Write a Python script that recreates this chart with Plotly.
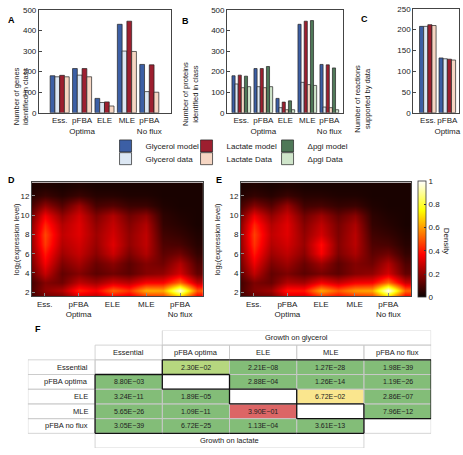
import plotly.graph_objects as go
import numpy as np

W, H = 463, 455
FONT = "Liberation Sans, Arial, Helvetica, sans-serif"

# ---------------- data ----------------
classes_AB = ["Ess.", "pFBA<br>Optima", "ELE", "MLE", "pFBA<br>No flux"]
classes_C = ["Ess.", "pFBA<br>Optima"]

genes_glycerol_model = [180, 215, 70, 430, 235]
genes_glycerol_data = [175, 183, 50, 300, 103]
genes_lactate_model = [182, 215, 53, 445, 233]
genes_lactate_data = [175, 175, 33, 298, 100]

prot_glycerol_model = [180, 215, 70, 430, 235]
prot_glycerol_data = [140, 127, 25, 148, 28]
prot_lactate_model = [183, 215, 52, 445, 233]
prot_lactate_data = [122, 122, 15, 137, 25]
prot_pgi_model = [178, 225, 58, 448, 218]
prot_pgi_data = [127, 127, 15, 133, 15]

rxn_glycerol_model = [208, 132]
rxn_glycerol_data = [208, 130]
rxn_lactate_model = [212, 129]
rxn_lactate_data = [210, 127]

# density heatmaps (D: glycerol, E: lactate); sampled at x positions / expression levels
dens_x = [0.5, 1, 1.5, 2, 2.5, 3, 3.5, 4, 4.5, 5, 5.5]
dens_y = [1.5, 2.2, 3, 4, 5, 6, 7, 8, 9, 10, 11, 12, 13]
dens_class_ticks = [1, 2, 3, 4, 5]
dens_class_labels = ["Ess.", "pFBA<br>Optima", "ELE", "MLE", "pFBA<br>No flux"]

D_cols = [
    [0.05, 0.07, 0.06, 0.09, 0.11, 0.13, 0.14, 0.14, 0.13, 0.10, 0.06, 0.03, 0.02],
    [0.14, 0.20, 0.18, 0.28, 0.35, 0.40, 0.45, 0.47, 0.42, 0.35, 0.20, 0.07, 0.03],
    [0.15, 0.25, 0.15, 0.13, 0.17, 0.22, 0.25, 0.27, 0.25, 0.20, 0.11, 0.04, 0.02],
    [0.28, 0.42, 0.27, 0.18, 0.23, 0.28, 0.30, 0.32, 0.32, 0.30, 0.22, 0.07, 0.03],
    [0.25, 0.36, 0.22, 0.12, 0.14, 0.19, 0.21, 0.22, 0.20, 0.17, 0.09, 0.04, 0.02],
    [0.33, 0.52, 0.30, 0.15, 0.19, 0.29, 0.32, 0.30, 0.28, 0.25, 0.11, 0.04, 0.02],
    [0.30, 0.44, 0.26, 0.12, 0.12, 0.17, 0.20, 0.20, 0.18, 0.15, 0.07, 0.03, 0.02],
    [0.40, 0.63, 0.36, 0.18, 0.18, 0.25, 0.27, 0.27, 0.25, 0.20, 0.07, 0.03, 0.02],
    [0.42, 0.62, 0.36, 0.20, 0.15, 0.12, 0.10, 0.08, 0.06, 0.05, 0.03, 0.02, 0.02],
    [0.60, 0.97, 0.52, 0.30, 0.25, 0.15, 0.09, 0.06, 0.04, 0.03, 0.02, 0.02, 0.02],
    [0.32, 0.50, 0.27, 0.13, 0.10, 0.06, 0.04, 0.03, 0.02, 0.02, 0.02, 0.02, 0.02],
]
E_cols = [
    [0.05, 0.07, 0.06, 0.09, 0.11, 0.13, 0.14, 0.14, 0.13, 0.10, 0.06, 0.03, 0.02],
    [0.13, 0.18, 0.17, 0.27, 0.34, 0.40, 0.44, 0.46, 0.42, 0.34, 0.18, 0.06, 0.03],
    [0.14, 0.22, 0.14, 0.13, 0.17, 0.22, 0.25, 0.27, 0.25, 0.20, 0.11, 0.04, 0.02],
    [0.28, 0.40, 0.25, 0.17, 0.22, 0.27, 0.30, 0.32, 0.32, 0.29, 0.21, 0.07, 0.03],
    [0.28, 0.40, 0.23, 0.12, 0.14, 0.19, 0.21, 0.20, 0.18, 0.15, 0.08, 0.04, 0.02],
    [0.40, 0.62, 0.35, 0.16, 0.22, 0.36, 0.38, 0.30, 0.27, 0.22, 0.09, 0.04, 0.02],
    [0.35, 0.50, 0.28, 0.12, 0.12, 0.17, 0.18, 0.17, 0.16, 0.13, 0.06, 0.03, 0.02],
    [0.40, 0.60, 0.35, 0.18, 0.18, 0.24, 0.26, 0.26, 0.24, 0.19, 0.07, 0.03, 0.02],
    [0.42, 0.62, 0.36, 0.20, 0.15, 0.12, 0.10, 0.08, 0.06, 0.05, 0.03, 0.02, 0.02],
    [0.62, 1.00, 0.53, 0.30, 0.25, 0.15, 0.09, 0.06, 0.04, 0.03, 0.02, 0.02, 0.02],
    [0.33, 0.52, 0.28, 0.13, 0.10, 0.06, 0.04, 0.03, 0.02, 0.02, 0.02, 0.02, 0.02],
]
density_ticks = [0, 0.2, 0.4, 0.6, 0.8, 1]
density_labels = ["0", "0.2", "0.4", "0.6", "0.8", "1"]

# table F: p-values
table_classes = ["Essential", "pFBA optima", "ELE", "MLE", "pFBA no flux"]
p_glycerol = {  # upper triangle (row, col)
    (0, 1): 2.30e-02, (0, 2): 2.21e-08, (0, 3): 1.27e-28, (0, 4): 1.98e-39,
    (1, 2): 2.88e-04, (1, 3): 1.26e-14, (1, 4): 1.19e-26,
    (2, 3): 6.72e-02, (2, 4): 2.86e-07,
    (3, 4): 7.96e-12,
}
p_lactate = {  # lower triangle (row, col)
    (1, 0): 8.80e-03,
    (2, 0): 3.24e-11, (2, 1): 1.89e-05,
    (3, 0): 5.65e-26, (3, 1): 1.09e-11, (3, 2): 3.90e-01,
    (4, 0): 3.05e-39, (4, 1): 6.72e-25, (4, 2): 1.13e-04, (4, 3): 3.61e-13,
}

# ---------------- styling ----------------
C_GM, C_GD = "#3c5fa5", "#dce7f3"
C_LM, C_LD = "#9d1f2f", "#f6d6c3"
C_PM, C_PD = "#4f7858", "#cfe5ca"
EDGE = "#222222"


def fx(px):
    return px / W


def fy(py):
    return 1 - py / H


def dom_x(a, b):
    return [fx(a), fx(b)]


def dom_y(top, bottom):
    return [fy(bottom), fy(top)]


fig = go.Figure()

series_A = [("Glycerol model", genes_glycerol_model, C_GM),
            ("Glycerol data", genes_glycerol_data, C_GD),
            ("Lactate model", genes_lactate_model, C_LM),
            ("Lactate Data", genes_lactate_data, C_LD)]
for name, vals, col in series_A:
    fig.add_trace(go.Bar(x=classes_AB, y=vals, name=name, marker=dict(color=col, line=dict(color=EDGE, width=0.7)),
                         xaxis="x", yaxis="y", showlegend=False, hoverinfo="skip"))

series_B = [("Glycerol model", prot_glycerol_model, C_GM, "legend", 1),
            ("Glycerol data", prot_glycerol_data, C_GD, "legend2", 4),
            ("Lactate model", prot_lactate_model, C_LM, "legend", 2),
            ("Lactate Data", prot_lactate_data, C_LD, "legend2", 5),
            ("\u0394pgi model", prot_pgi_model, C_PM, "legend", 3),
            ("\u0394pgi Data", prot_pgi_data, C_PD, "legend2", 6)]
for name, vals, col, lg, rank in series_B:
    fig.add_trace(go.Bar(x=classes_AB, y=vals, name=name, marker=dict(color=col, line=dict(color=EDGE, width=0.7)),
                         xaxis="x2", yaxis="y2", legend=lg, legendrank=rank, hoverinfo="skip"))

series_C = [("Glycerol model", rxn_glycerol_model, C_GM),
            ("Glycerol data", rxn_glycerol_data, C_GD),
            ("Lactate model", rxn_lactate_model, C_LM),
            ("Lactate Data", rxn_lactate_data, C_LD)]
for name, vals, col in series_C:
    fig.add_trace(go.Bar(x=classes_C, y=vals, name=name, marker=dict(color=col, line=dict(color=EDGE, width=0.7)),
                         xaxis="x3", yaxis="y3", showlegend=False, hoverinfo="skip"))

hot = [[0.0, "rgb(12,2,0)"], [0.365, "rgb(255,0,0)"], [0.746, "rgb(255,255,0)"], [1.0, "rgb(255,255,255)"]]
zD = np.array(D_cols).T
zE = np.array(E_cols).T
fig.add_trace(go.Heatmap(x=dens_x, y=dens_y, z=zD, zmin=0, zmax=1, colorscale=hot, zsmooth="best",
                         showscale=False, xaxis="x4", yaxis="y4", hoverinfo="skip"))
fig.add_trace(go.Heatmap(x=dens_x, y=dens_y, z=zE, zmin=0, zmax=1, colorscale=hot, zsmooth="best",
                         xaxis="x5", yaxis="y5", hoverinfo="skip",
                         colorbar=dict(thickness=8, thicknessmode="pixels", len=116, lenmode="pixels",
                                       x=fx(420), xanchor="left", y=fy(240), yanchor="middle",
                                       xpad=0, ypad=0, outlinewidth=0.8, outlinecolor="#333",
                                       ticks="inside", ticklen=2, tickcolor="#333",
                                       tickvals=density_ticks, ticktext=density_labels,
                                       tickfont=dict(size=8, family=FONT, color="#222"))))

# ---- table F as a heatmap of significance classes ----
n = len(table_classes)
codes = [[0] * n for _ in range(n)]
region = [[0] * n for _ in range(n)]
GREEN, LGREEN, YELLOW, RED = "#83bd78", "#b6d77f", "#fae68e", "#dc6666"


def sig_code(p):
    if p < 0.01:
        return 1
    if p < 0.05:
        return 2
    if p < 0.1:
        return 3
    return 4


ann = []
tfont = dict(size=7.5, family=FONT, color="#222222")
for reg, d in ((1, p_glycerol), (2, p_lactate)):
    for (r, c), p in d.items():
        codes[r][c] = sig_code(p)
        region[r][c] = reg
        ann.append(dict(xref="x6", yref="y6", x=c, y=r, text=f"{p:.2E}".replace("-", "\u2212"),
                        showarrow=False, font=dict(size=7, family=FONT, color="#222222")))

tbl_scale = [[0.0, "white"], [0.2, "white"], [0.2, GREEN], [0.4, GREEN], [0.4, LGREEN], [0.6, LGREEN],
             [0.6, YELLOW], [0.8, YELLOW], [0.8, RED], [1.0, RED]]
fig.add_trace(go.Heatmap(x=list(range(n)), y=list(range(n)), z=codes, zmin=-0.5, zmax=4.5, colorscale=tbl_scale,
                         showscale=False, xaxis="x6", yaxis="y6", hoverinfo="skip"))

shapes = []
GRID = "#c9c9c9"


def cell_rect(x0, x1, y0, y1):
    shapes.append(dict(type="rect", xref="x6", yref="y6", x0=x0, x1=x1, y0=y0, y1=y1,
                       line=dict(color=GRID, width=0.8), layer="above"))


for r in range(n):
    for c in range(-1, n):
        cell_rect(c - 0.5, c + 0.5, r - 0.5, r + 0.5)
for c in range(n):
    cell_rect(c - 0.5, c + 0.5, -1.5, -0.5)
cell_rect(0.5, n - 0.5, -2.5, -1.5)
cell_rect(-0.5, n - 1.5, n - 0.5, n + 0.5)

# thick outlines around glycerol / lactate regions
for r in range(n):
    for c in range(n):
        reg = region[r][c]
        if reg == 0:
            continue
        nb = {
            "top": region[r - 1][c] if r - 1 >= 0 else 0,
            "bottom": region[r + 1][c] if r + 1 < n else 0,
            "left": region[r][c - 1] if c - 1 >= 0 else 0,
            "right": region[r][c + 1] if c + 1 < n else 0,
        }
        segs = {
            "top": (c - 0.5, r - 0.5, c + 0.5, r - 0.5),
            "bottom": (c - 0.5, r + 0.5, c + 0.5, r + 0.5),
            "left": (c - 0.5, r - 0.5, c - 0.5, r + 0.5),
            "right": (c + 0.5, r - 0.5, c + 0.5, r + 0.5),
        }
        for side, v in nb.items():
            if v != reg:
                x0, y0, x1, y1 = segs[side]
                shapes.append(dict(type="line", xref="x6", yref="y6", x0=x0, y0=y0, x1=x1, y1=y1,
                                   line=dict(color="#111", width=1.3), layer="above"))

for i, name in enumerate(table_classes):
    ann.append(dict(xref="x6", yref="y6", x=-0.57, y=i, text=name, showarrow=False, xanchor="right", font=tfont))
    ann.append(dict(xref="x6", yref="y6", x=i, y=-1, text=name, showarrow=False, font=tfont))
ann.append(dict(xref="x6", yref="y6", x=2.5, y=-2, text="Growth on glycerol", showarrow=False, font=tfont))
ann.append(dict(xref="x6", yref="y6", x=1.5, y=5, text="Growth on lactate", showarrow=False, font=tfont))

# panel letters
for letter, px, py in [("A", 6, 9), ("B", 186, 10), ("C", 372, 8), ("D", 6, 180), ("E", 220, 180), ("F", 33, 339)]:
    ann.append(dict(xref="paper", yref="paper", x=fx(px), y=fy(py), text=f"<b>{letter}</b>", showarrow=False,
                    font=dict(size=9, family=FONT, color="#000")))

lfont = dict(size=7.5, family=FONT, color="#222")
for txt, px, py in [("Number of genes<br>identified in class", 10, 62),
                    ("Number of proteins<br>identified in class", 192, 57),
                    ("Number of reactions<br>supported by data", 376, 60)]:
    ann.append(dict(xref="paper", yref="paper", x=fx(px), y=fy(py), text=txt, showarrow=False,
                    textangle=-90, font=lfont))
for px in (10, 219):
    ann.append(dict(xref="paper", yref="paper", x=fx(px), y=fy(240), text="log<sub>2</sub>(expression level)",
                    showarrow=False, textangle=-90, font=lfont))
ann.append(dict(xref="paper", yref="paper", x=fx(455), y=fy(242), text="Density", showarrow=False,
                textangle=90, font=dict(size=8, family=FONT, color="#222")))

tickfont = dict(size=8, family=FONT, color="#222")
bar_y = dict(showline=True, mirror=True, linecolor="#444", linewidth=0.8, ticks="inside", ticklen=3,
             tickcolor="#444", showgrid=False, zeroline=False, tickfont=tickfont)
bar_x = dict(showline=True, mirror=True, linecolor="#444", linewidth=0.8, ticks="", showgrid=False,
             tickfont=tickfont, tickangle=0)
heat_ax = dict(showline=True, mirror=True, linecolor="#444", linewidth=0.8, ticks="inside", ticklen=3,
               tickcolor="#888", showgrid=False, zeroline=False, tickfont=tickfont)
legend_common = dict(orientation="h", xanchor="left", yanchor="top",
                     font=dict(size=8, family=FONT, color="#222"), bgcolor="rgba(0,0,0,0)",
                     entrywidth=36, itemwidth=30, tracegroupgap=0)

DENS_YR = [1.6, 13.4]
DENS_XR = [0.62, 5.68]

fig.update_layout(
    width=W, height=H, margin=dict(l=0, r=0, t=0, b=0),
    paper_bgcolor="white", plot_bgcolor="white",
    barmode="group", bargap=0.15, bargroupgap=0.0,
    font=dict(family=FONT, size=8, color="#222"),
    xaxis=dict(domain=dom_x(39, 172), range=[-0.93, 4.98], **bar_x),
    yaxis=dict(domain=dom_y(6, 111), range=[0, 500], dtick=100, **bar_y),
    xaxis2=dict(domain=dom_x(228, 344), range=[-0.65, 4.6], anchor="y2", **bar_x),
    yaxis2=dict(domain=dom_y(6, 111), range=[0, 500], dtick=100, anchor="x2", **bar_y),
    xaxis3=dict(domain=dom_x(415, 461), range=[-0.75, 1.6], anchor="y3", **bar_x),
    yaxis3=dict(domain=dom_y(5, 111), range=[0, 250], dtick=50, anchor="x3", **bar_y),
    xaxis4=dict(domain=dom_x(32, 204), range=DENS_XR, anchor="y4", tickvals=dens_class_ticks,
                ticktext=dens_class_labels, **heat_ax),
    yaxis4=dict(domain=dom_y(182, 298), range=DENS_YR, anchor="x4", tickvals=[2, 4, 6, 8, 10, 12], **heat_ax),
    xaxis5=dict(domain=dom_x(242, 413), range=DENS_XR, anchor="y5", tickvals=dens_class_ticks,
                ticktext=dens_class_labels, **heat_ax),
    yaxis5=dict(domain=dom_y(182, 298), range=DENS_YR, anchor="x5", tickvals=[2, 4, 6, 8, 10, 12], **heat_ax),
    xaxis6=dict(domain=dom_x(28, 433), range=[-1.5, 4.5], anchor="y6", visible=False),
    yaxis6=dict(domain=dom_y(333, 453), range=[5.5, -2.5], anchor="x6", visible=False),
    legend=dict(x=fx(106), y=fy(130), **legend_common),
    legend2=dict(x=fx(106), y=fy(143), **legend_common),
    shapes=shapes, annotations=ann,
)

fig.write_html("out.html", config={"displayModeBar": False},
               post_script="document.body.style.margin='0px';document.body.style.padding='0px';")
